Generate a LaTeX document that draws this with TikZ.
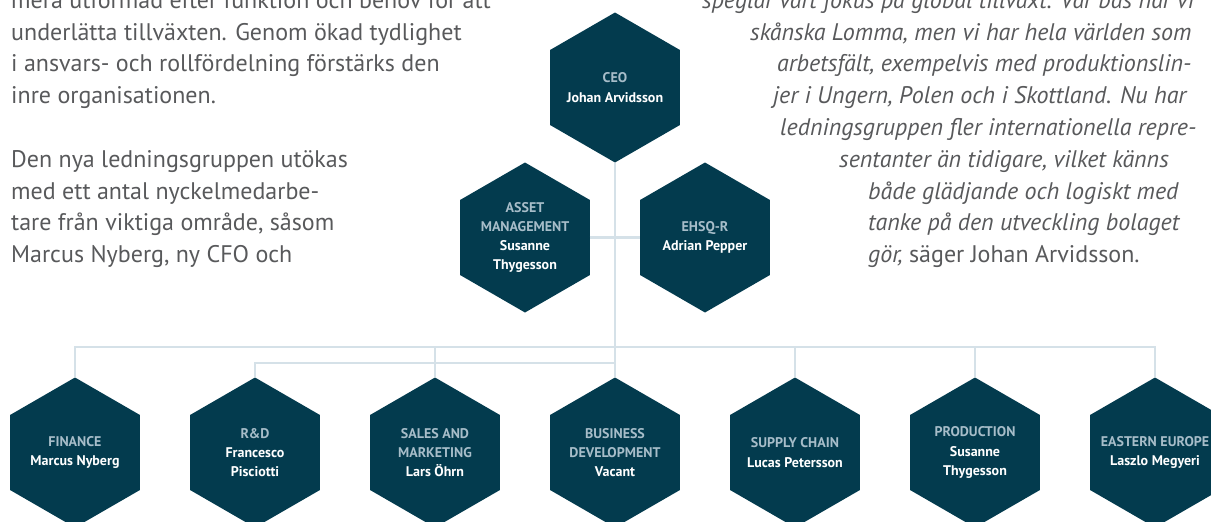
\documentclass[tikz,border=0pt]{standalone}
\usepackage{fontspec}
\setmainfont{PT Sans}
\usepackage{tikz}
\usetikzlibrary{shapes.geometric, positioning}
\definecolor{hexteal}{HTML}{033B4E}
\definecolor{linkgray}{HTML}{D5E1E8}
\definecolor{titlegray}{HTML}{A7BDC9}
\definecolor{bodygray}{HTML}{58595B}
\newcommand{\dept}[1]{{\color{titlegray}#1}}
\tikzset{
    unit/.style={regular polygon, regular polygon sides=6, shape border rotate=30, minimum size=150pt, inner sep=0pt, outer sep=0pt, fill=hexteal, label={[unittext]center:{#1}}},
    unittext/.style={align=center, text=white, font=\fontsize{14}{19.3}\selectfont\bfseries},
    link/.style={draw=linkgray, line width=2.6pt},
    body/.style={anchor=base west, inner sep=0pt, text=bodygray, font=\fontsize{24}{31.8}\selectfont},
    quote/.style={body, font=\fontsize{24}{31.8}\selectfont\itshape}
}

\begin{document}
\begin{tikzpicture}[x=1pt, y=-1pt]
    \useasboundingbox (0,0) rectangle (1211,522);

    % Running text, left column
    \foreach \ypos/\line [count=\i] in {
        8.3/{mera utformad efter funktion och behov för att},
        40.1/{underlätta tillväxten. Genom ökad tydlighet},
        71.9/{i ansvars- och rollfördelning förstärks den},
        103.7/{inre organisationen.},
        167.3/{Den nya ledningsgruppen utökas},
        199.1/{med ett antal nyckelmedarbe-},
        230.9/{tare från viktiga område, såsom},
        262.7/{Marcus Nyberg, ny CFO och}}
        \node[body] (left\i) at (11,\ypos) {\line};

    % Quote, right column
    \foreach \xpos/\ypos/\line [count=\i] in {
        702/8.3/{speglar vårt fokus på global tillväxt. Vår bas har vi},
        750/40.1/{skånska Lomma, men vi har hela världen som},
        777/71.9/{arbetsfält, exempelvis med produktionslin-},
        773/103.7/{jer i Ungern, Polen och i Skottland. Nu har},
        780/135.5/{ledningsgruppen fler internationella repre-},
        839/167.3/{sentanter än tidigare, vilket känns},
        868/199.1/{både glädjande och logiskt med},
        868/230.9/{tanke på den utveckling bolaget},
        868/262.7/{gör, \upshape säger Johan Arvidsson.}}
        \node[quote] (right\i) at (\xpos,\ypos) {\line};

    % Management
    \node[unit={\dept{CEO}\\Johan Arvidsson}] (ceo) at (615,87.5) {};
    \node[unit={\dept{ASSET}\\\dept{MANAGEMENT}\\Susanne\\Thygesson}] (am) at (525,237.5) {};
    \node[unit={\dept{EHSQ-R}\\Adrian Pepper}] (eh) at (705,237.5) {};

    % Functions
    \node[unit={\dept{FINANCE}\\Marcus Nyberg}] (fin) at (75,452.5) {};
    \node[unit={\dept{R\&D}\\Francesco\\Pisciotti}] (rd) at (255,452.5) {};
    \node[unit={\dept{SALES AND}\\\dept{MARKETING}\\Lars Öhrn}] (sm) at (435,452.5) {};
    \node[unit={\dept{BUSINESS}\\\dept{DEVELOPMENT}\\Vacant}] (bd) at (615,452.5) {};
    \node[unit={\dept{SUPPLY CHAIN}\\Lucas Petersson}] (sc) at (795,452.5) {};
    \node[unit={\dept{PRODUCTION}\\Susanne\\Thygesson}] (pr) at (975,452.5) {};
    \node[unit={\dept{EASTERN EUROPE}\\Laszlo Megyeri}] (ee) at (1155,452.5) {};

    % Connectors
    \coordinate (upper) at (615,347);
    \coordinate (lower) at (615,363);
    \draw[link] (ceo.south) -- (bd.north);
    \draw[link] (am.east) -- (eh.west);
    \draw[link] (fin.north) |- (upper) -| (ee.north);
    \foreach \n in {sm, sc, pr}
        \draw[link] (\n.north) -- (\n.north |- upper);
    \draw[link] (rd.north) |- (lower);
\end{tikzpicture}
\end{document}
